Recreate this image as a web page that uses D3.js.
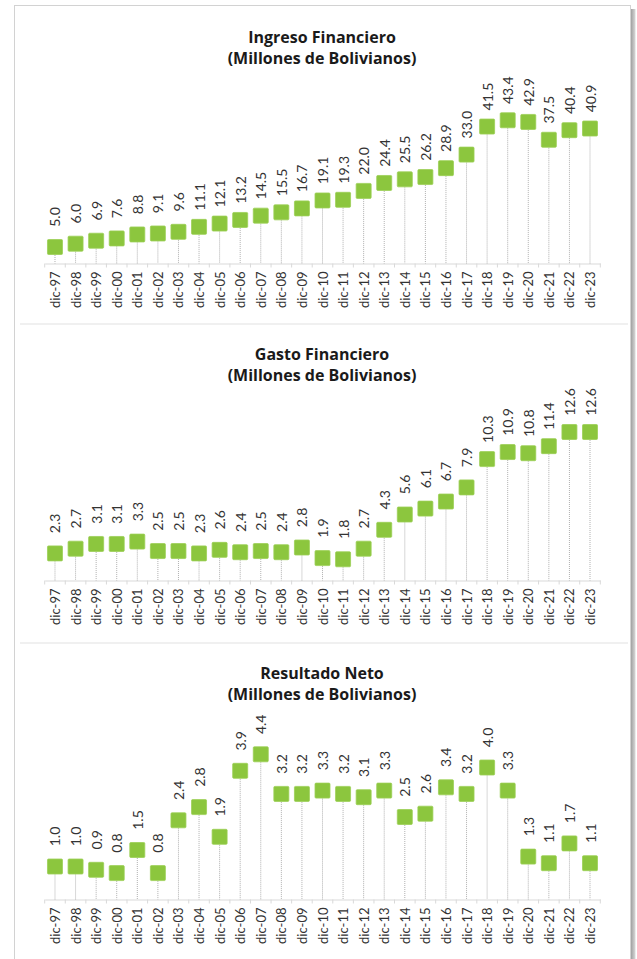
<!DOCTYPE html>
<html>
<head>
<meta charset="utf-8">
<script src="https://cdn.jsdelivr.net/npm/d3@7"></script>
<style>
  body { margin: 0; background: #fff; }
  svg { display: block; font-family: Lato, "Open Sans", sans-serif; }
</style>
</head>
<body>
<svg id="chart" width="637" height="959"></svg>
<script>
// periods shown on the x axis
var categories = ["dic-97", "dic-98", "dic-99", "dic-00", "dic-01", "dic-02", "dic-03",
  "dic-04", "dic-05", "dic-06", "dic-07", "dic-08", "dic-09", "dic-10", "dic-11",
  "dic-12", "dic-13", "dic-14", "dic-15", "dic-16", "dic-17", "dic-18", "dic-19",
  "dic-20", "dic-21", "dic-22", "dic-23"];

var ingreso = [5.0, 6.0, 6.9, 7.6, 8.8, 9.1, 9.6, 11.1, 12.1, 13.2, 14.5, 15.5, 16.7,
  19.1, 19.3, 22.0, 24.4, 25.5, 26.2, 28.9, 33.0, 41.5, 43.4, 42.9, 37.5, 40.4, 40.9];

var gasto = [2.3, 2.7, 3.1, 3.1, 3.3, 2.5, 2.5, 2.3, 2.6, 2.4, 2.5, 2.4, 2.8,
  1.9, 1.8, 2.7, 4.3, 5.6, 6.1, 6.7, 7.9, 10.3, 10.9, 10.8, 11.4, 12.6, 12.6];

var resultado = [1.0, 1.0, 0.9, 0.8, 1.5, 0.8, 2.4, 2.8, 1.9, 3.9, 4.4, 3.2, 3.2,
  3.3, 3.2, 3.1, 3.3, 2.5, 2.6, 3.4, 3.2, 4.0, 3.3, 1.3, 1.1, 1.7, 1.1];

var titles = ["Ingreso Financiero", "Gasto Financiero", "Resultado Neto"];
var subtitle = "(Millones de Bolivianos)";
var yMax = [50, 14, 5];

var series = [ingreso, gasto, resultado];

var svg = d3.select("#chart");

// outer frame + right shadow
var shade = svg.append("defs").append("linearGradient")
    .attr("id", "shade").attr("x1", 0).attr("x2", 1);
shade.append("stop").attr("offset", 0).attr("stop-color", "#9a9a9a");
shade.append("stop").attr("offset", 1).attr("stop-color", "#dadada");

svg.append("rect")
    .attr("x", 630.5).attr("y", 9)
    .attr("width", 5).attr("height", 960)
    .attr("fill", "url(#shade)");

svg.append("rect")
    .attr("x", 14.5).attr("y", 5.5)
    .attr("width", 616).attr("height", 970)
    .attr("fill", "#fff")
    .attr("stroke", "#d2d2d2");

var x = d3.scaleBand()
    .domain(categories)
    .range([44.7, 600.3])
    .padding(0);

var panelTop = [0, 317, 636];

series.forEach(function(values, p) {
    var y0 = panelTop[p];
    var g = svg.append("g").attr("transform", "translate(0," + y0 + ")");

    if (p > 0) {
        g.append("line")
            .attr("x1", 20).attr("x2", 628)
            .attr("y1", 7).attr("y2", 7)
            .attr("stroke", "#f0f0f0")
            .attr("stroke-width", 2);
    }

    var y = d3.scaleLinear()
        .domain([0, yMax[p]])
        .range([263.5, 98.5]);

    // title
    var title = g.append("text")
        .attr("text-anchor", "middle")
        .attr("font-family", "'Open Sans', sans-serif")
        .attr("font-weight", "bold")
        .attr("font-size", 16)
        .attr("fill", "#1a1a1a");
    title.append("tspan").attr("x", 322).attr("y", 43).text(titles[p]);
    title.append("tspan").attr("x", 322).attr("y", 64).text(subtitle);

    // x axis
    var axis = g.append("g")
        .attr("transform", "translate(0," + y(0) + ")")
        .call(d3.axisBottom(x).tickSize(0).tickFormat(""));
    axis.select(".domain").attr("stroke", "#d9d9d9");

    g.selectAll(".tick-mark")
        .data(categories.concat([null]))
        .enter().append("line")
        .attr("class", "tick-mark")
        .attr("x1", function(d, i) { return x.range()[0] + i * x.step(); })
        .attr("x2", function(d, i) { return x.range()[0] + i * x.step(); })
        .attr("y1", y(0))
        .attr("y2", y(0) + 4)
        .attr("stroke", "#d9d9d9");

    g.selectAll(".cat")
        .data(categories)
        .enter().append("text")
        .attr("class", "cat")
        .attr("transform", function(d) {
            return "translate(" + (x(d) + x.bandwidth() / 2) + "," + (y(0) + 8) + ") rotate(-90)";
        })
        .attr("text-anchor", "end")
        .attr("dominant-baseline", "central")
        .attr("font-size", 13)
        .attr("fill", "#333")
        .text(function(d) { return d; });

    // drop lines
    g.selectAll(".drop")
        .data(values)
        .enter().append("line")
        .attr("class", "drop")
        .attr("x1", function(d, i) { return x(categories[i]) + x.bandwidth() / 2; })
        .attr("x2", function(d, i) { return x(categories[i]) + x.bandwidth() / 2; })
        .attr("y1", function(d) { return y(d); })
        .attr("y2", y(0))
        .attr("stroke", "#b0b0b0")
        .attr("stroke-dasharray", "1,1");

    // markers
    g.selectAll(".mark")
        .data(values)
        .enter().append("rect")
        .attr("class", "mark")
        .attr("x", function(d, i) { return x(categories[i]) + x.bandwidth() / 2 - 7.5; })
        .attr("y", function(d) { return y(d) - 7.5; })
        .attr("width", 15)
        .attr("height", 15)
        .attr("rx", 1)
        .attr("fill", "#8cc63e")
        .attr("stroke", "#9ccf55")
        .attr("stroke-width", 0.8);

    // value labels
    g.selectAll(".val")
        .data(values)
        .enter().append("text")
        .attr("class", "val")
        .attr("transform", function(d, i) {
            return "translate(" + (x(categories[i]) + x.bandwidth() / 2) + "," + (y(d) - 30) + ") rotate(-90)";
        })
        .attr("text-anchor", "middle")
        .attr("dominant-baseline", "central")
        .attr("font-size", 14)
        .attr("fill", "#333")
        .text(function(d) { return d3.format(".1f")(d); });
});
</script>
</body>
</html>
